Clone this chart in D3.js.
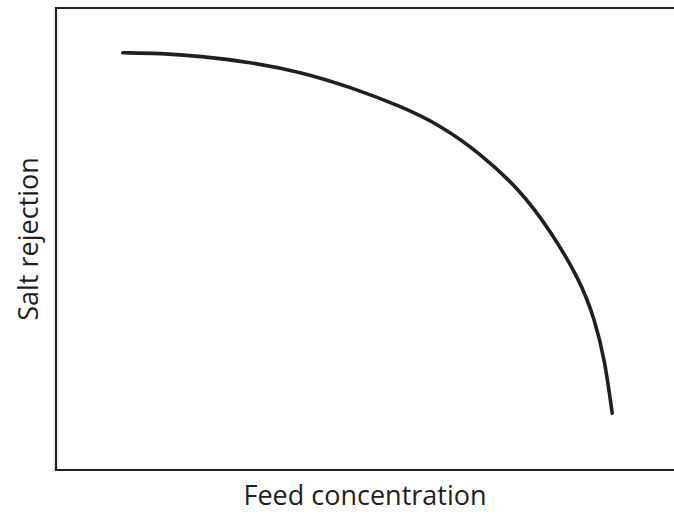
<!DOCTYPE html>
<html>
<head>
<meta charset="utf-8">
<script src="https://cdn.jsdelivr.net/npm/d3@7"></script>
<style>
  body { margin: 0; background: #fff; }
  text { font-family: "Open Sans", sans-serif; fill: #231f20; }
</style>
</head>
<body>
<svg id="chart" width="674" height="514"></svg>
<script>
// curve (arbitrary units, 0-100 on both axes)
const feedConc = [10.8, 16.8, 23.3, 31.4, 39.5, 47.6, 55.7, 62.1, 68.6, 75.1, 79.9, 84.8, 87.2, 88.8, 90.0];
const saltRej  = [90.3, 90.2, 89.6, 88.3, 86.2, 82.9, 78.8, 74.7, 68.6, 60.6, 52.0, 41.1, 32.5, 23.8, 12.3];
const xLabel = "Feed concentration";
const yLabel = "Salt rejection";

let svg = d3.select("#chart");
let margin = { top: 8, right: 0, bottom: 44, left: 56 };
let width = +svg.attr("width") - margin.left - margin.right;
let height = +svg.attr("height") - margin.top - margin.bottom;

const g = svg.append("g")
    .attr("transform", "translate(" + margin.left + "," + margin.top + ")");

const x = d3.scaleLinear().domain([0, 100]).range([0, width]);
const y = d3.scaleLinear().domain([0, 100]).range([height, 0]);

// frame: left, top, bottom (right side runs off the page)
const frame = [
  [[0, 0], [0, 100]],
  [[0, 100], [100, 100]],
  [[0, 0], [100, 0]]
];
g.selectAll(".frame").data(frame)
  .enter().append("line")
    .attr("class", "frame")
    .attr("x1", d => x(d[0][0])).attr("y1", d => y(d[0][1]))
    .attr("x2", d => x(d[1][0])).attr("y2", d => y(d[1][1]))
    .attr("stroke", "#231f20")
    .attr("stroke-width", 2.2)
    .attr("stroke-linecap", "square");

const pts = feedConc.map((v, i) => [v, saltRej[i]]);
const line = d3.line()
    .x(d => x(d[0]))
    .y(d => y(d[1]))
    .curve(d3.curveBasis);

g.append("path")
    .datum(pts)
    .attr("d", line)
    .attr("fill", "none")
    .attr("stroke", "#231f20")
    .attr("stroke-width", 3.6)
    .attr("stroke-linecap", "round");

svg.append("text")
    .attr("x", 365)
    .attr("y", 505)
    .attr("text-anchor", "middle")
    .style("font-size", "27px")
    .text(xLabel);

svg.append("text")
    .attr("transform", "translate(38,239) rotate(-90)")
    .attr("text-anchor", "middle")
    .style("font-size", "27px")
    .text(yLabel);
</script>
</body>
</html>
